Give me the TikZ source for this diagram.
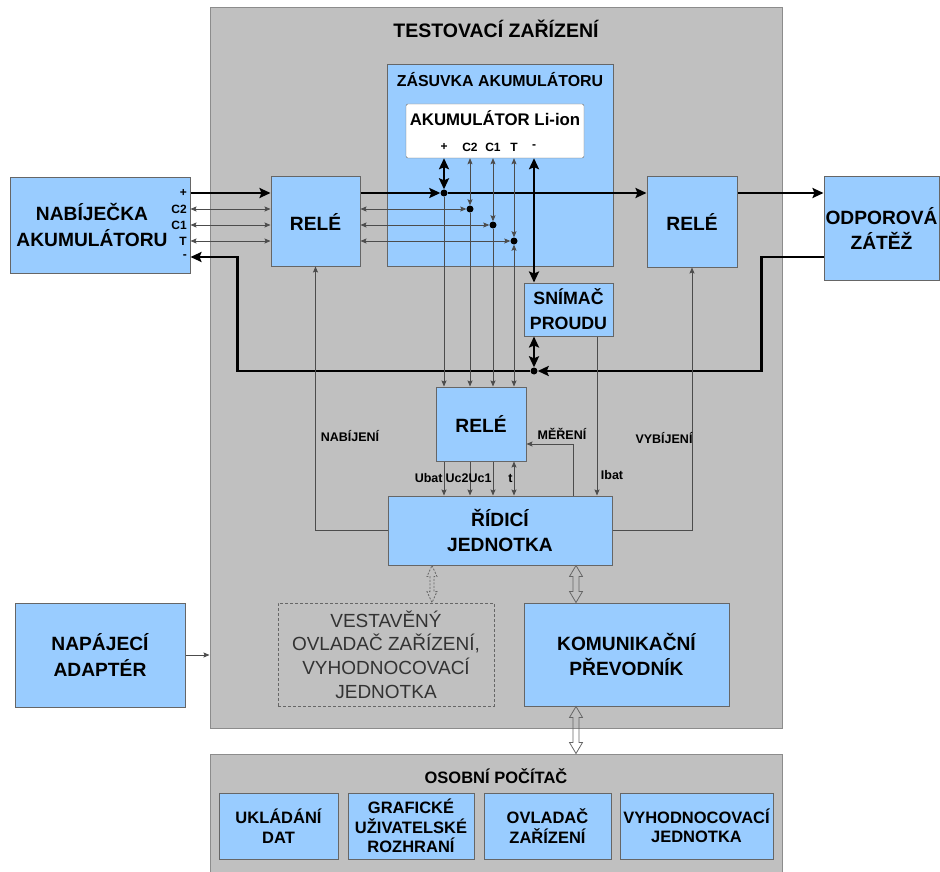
\documentclass[tikz,border=0pt]{standalone}
\usepackage{fontspec}
\setmainfont{Liberation Sans}
\usetikzlibrary{arrows.meta,calc}
\definecolor{modra}{HTML}{99CCFF}
\definecolor{seda}{HTML}{C0C0C0}
\def\velky{\bfseries\fontsize{19.2}{25.5}\selectfont}
\def\stredni{\bfseries\fontsize{16.5}{19.5}\selectfont}
\def\maly{\bfseries\fontsize{12.5}{14}\selectfont}
\def\dvojsipka[#1](#2)(#3)(#4:#5){\draw[#1] let \p1=(#2), \p2=(#3) in (\x1,\y1) -- (\x1+#4,\y1-11pt) -- (\x1+#5,\y1-11pt) -- (\x1+#5,\y2+11pt) -- (\x1+#4,\y2+11pt) -- (\x1,\y2) -- (\x1-#4,\y2+11pt) -- (\x1-#5,\y2+11pt) -- (\x1-#5,\y1-11pt) -- (\x1-#4,\y1-11pt) -- cycle;}
\tikzset{
	skrin/.style={draw=black!45, fill=seda, line width=1pt, inner sep=0pt},
	blok/.style={draw=black!60, fill=modra, line width=1pt, align=center, font=\velky, inner sep=0pt},
	maly blok/.style={blok, font=\stredni},
	pin/.style={font=\bfseries\fontsize{12}{12}\selectfont, inner sep=0pt},
	popis/.style={font=\maly, inner sep=1pt},
	bod/.style={circle, fill=black, inner sep=0pt, minimum size=7pt},
	tenka/.style={line width=0.8pt, draw=black!70, >={Stealth[length=6pt,width=5pt,inset=1pt]}},
	silna/.style={line width=2.8pt, >={Stealth[length=11pt,width=10pt,inset=2pt]}},
	obrys/.style={line width=0.8pt, draw=black!60}
}
\begin{document}
\begin{tikzpicture}[x=1pt, y=-1pt]
		%%%%% START %%%%%
		\useasboundingbox (0,0) rectangle (940,872);
		
		\node[skrin, minimum width=572pt, minimum height=720pt] (zarizeni) at (496,368) {};
		\node[font=\bfseries\fontsize{19.5}{22}\selectfont] (titulek) at (496,29) {TESTOVACÍ ZAŘÍZENÍ};
		
		% nabijecka a piny
		\node[blok, minimum width=180pt, minimum height=95pt] (nabijecka) at (100,225.5) {};
		\node[font=\velky, align=center] (nabtext) at (92,225) {NABÍJEČKA\\AKUMULÁTORU};
		\node[pin, anchor=east] (nplus) at (187,193) {+};
		\node[pin, anchor=east] (nc2) at (187,209) {C2};
		\node[pin, anchor=east] (nc1) at (187,225) {C1};
		\node[pin, anchor=east] (nt) at (187,241) {T};
		\node[pin, anchor=east] (nmin) at (187,257) {-};
		
		\node[blok, minimum width=89pt, minimum height=89pt] (rele1) at (315.5,221.5) {RELÉ};
		
		% zasuvka s akumulatorem
		\node[blok, minimum width=226pt, minimum height=201pt] (zasuvka) at (500,165.5) {};
		\node[font=\bfseries\fontsize{15.9}{18}\selectfont] (zastext) at (500,80) {ZÁSUVKA AKUMULÁTORU};
		\node[draw=black!60, fill=white, rounded corners=2pt, minimum width=178pt, minimum height=54pt] (akum) at (495,131) {};
		\node[font=\bfseries\fontsize{16.8}{18}\selectfont] (akumtext) at (495,118) {AKUMULÁTOR Li-ion};
		\node[pin] (aplus) at (444,147) {+};
		\node[pin] (ac2) at (470,147) {C2};
		\node[pin] (ac1) at (493,147) {C1};
		\node[pin] (at) at (514,147) {T};
		\node[pin] (amin) at (534,147) {-};
		
		\node[bod] (dplus) at (444,193) {};
		\node[bod] (dc2) at (470,209) {};
		\node[bod] (dc1) at (493,225) {};
		\node[bod] (dt) at (514,241) {};
		\node[bod] (dmin) at (534,371) {};
		
		\node[blok, minimum width=90pt, minimum height=90pt] (rele2) at (692,222) {RELÉ};
		\node[blok, minimum width=115pt, minimum height=103pt] (odporova) at (881.5,228.5) {ODPOROVÁ\\ZÁTĚŽ};
		\node[blok, minimum width=89pt, minimum height=53pt, font=\bfseries\fontsize{17.8}{25}\selectfont] (snimac) at (568.5,309.5) {SNÍMAČ\\PROUDU};
		\node[blok, minimum width=90pt, minimum height=74pt] (rele3) at (481,424) {RELÉ};
		\node[blok, minimum width=224pt, minimum height=69pt] (ridici) at (500,530.5) {ŘÍDICÍ\\JEDNOTKA};
		
		\node[draw=black!60, dash pattern=on 3pt off 2pt, line width=0.8pt, minimum width=216pt, minimum height=103pt, align=center, text=black!80, font=\fontsize{19}{23.7}\selectfont, inner sep=0pt] (vestaveny) at (386,654.5) {VESTAVĚNÝ\\OVLADAČ ZAŘÍZENÍ,\\VYHODNOCOVACÍ\\JEDNOTKA};
		\node[blok, minimum width=205pt, minimum height=103pt] (komunik) at (626.5,654.5) {KOMUNIKAČNÍ\\PŘEVODNÍK};
		\node[blok, minimum width=170pt, minimum height=104pt] (napajeci) at (100,655) {NAPÁJECÍ\\ADAPTÉR};
		
		% osobni pocitac
		\node[skrin, minimum width=572pt, minimum height=126pt] (osobni) at (496,817) {};
		\node[font=\stredni] (ostext) at (496,776) {OSOBNÍ POČÍTAČ};
		\node[maly blok, minimum width=119pt, minimum height=66pt] (ukladani) at (278.5,826) {UKLÁDÁNÍ\\DAT};
		\node[maly blok, minimum width=126pt, minimum height=66pt] (graficke) at (411,826) {GRAFICKÉ\\UŽIVATELSKÉ\\ROZHRANÍ};
		\node[maly blok, minimum width=127pt, minimum height=66pt] (ovladac) at (547.5,826) {OVLADAČ\\ZAŘÍZENÍ};
		\node[maly blok, minimum width=153pt, minimum height=66pt] (vyhodnoc) at (696.5,826) {VYHODNOCOVACÍ\\JEDNOTKA};
		
		% silove vedeni
		\draw[silna,->] (nabijecka.east |- nplus) -- (rele1.west |- nplus);
		\draw[silna,->] (rele1.east |- dplus) -- (dplus);
		\draw[silna,->] (dplus) -- (rele2.west |- dplus);
		\draw[silna,->] (rele2.east |- dplus) -- (odporova.west |- dplus);
		\draw[silna,<->] (akum.south -| dplus) -- (dplus);
		\draw[silna,<->] (akum.south -| dmin) -- (snimac.north -| dmin);
		\draw[silna,<->] (snimac.south -| dmin) -- (dmin);
		\draw[silna,->] (odporova.west |- nmin) -- ++(-62,0) |- (dmin);
		\draw[silna,->] (dmin) -| ([xshift=47pt]nabijecka.east |- nmin) -- (nabijecka.east |- nmin);
		
		% signaly
		\draw[tenka,<->] (nabijecka.east |- nc2) -- (rele1.west |- nc2);
		\draw[tenka,<->] (nabijecka.east |- nc1) -- (rele1.west |- nc1);
		\draw[tenka,<->] (nabijecka.east |- nt) -- (rele1.west |- nt);
		\draw[tenka,<->] (rele1.east |- dc2) -- (dc2);
		\draw[tenka,<->] (rele1.east |- dc1) -- (dc1);
		\draw[tenka,<->] (rele1.east |- dt) -- (dt);
		\draw[tenka,<->] (akum.south -| dc2) -- (dc2);
		\draw[tenka,<->] (akum.south -| dc1) -- (dc1);
		\draw[tenka,<->] (akum.south -| dt) -- (dt);
		\draw[tenka,->] (dplus) -- (rele3.north -| dplus);
		\draw[tenka,->] (dc2) -- (rele3.north -| dc2);
		\draw[tenka,->] (dc1) -- (rele3.north -| dc1);
		\draw[tenka,<->] (dt) -- (rele3.north -| dt);
		
		\draw[tenka,->] (rele3.south -| dplus) -- (ridici.north -| dplus) node[popis, midway, left] (ubat) {Ubat};
		\draw[tenka,->] (rele3.south -| dc2) -- (ridici.north -| dc2) node[popis, midway, left] (uc2) {Uc2};
		\draw[tenka,->] (rele3.south -| dc1) -- (ridici.north -| dc1) node[popis, midway, left] (uc1) {Uc1};
		\draw[tenka,<->] (rele3.south -| dt) -- (ridici.north -| dt) node[popis, midway, left] (tt) {t};
		\draw[tenka,->] ([xshift=73pt]ridici.north) |- ([yshift=-20pt]rele3.east);
		\node[popis] (mereni) at (562,434) {MĚŘENÍ};
		\draw[tenka,->] ([xshift=28.5pt]snimac.south) -- ([xshift=28.5pt]snimac.south |- ridici.north);
		\node[popis] (ibat) at (612,475) {Ibat};
		\draw[tenka,->] (ridici.west) -| (rele1.south);
		\node[popis] (nabijeni) at (350,436) {NABÍJENÍ};
		\draw[tenka,->] (ridici.east) -| (rele2.south);
		\node[popis] (vybijeni) at (664,438) {VYBÍJENÍ};
		\draw[tenka,->] (napajeci.east) -- (napajeci.east -| zarizeni.west);
		
		% komunikace
		\coordinate (vs) at ([xshift=46pt]vestaveny.north);
		\coordinate (ks) at ([xshift=-50.5pt]komunik.north);
		\dvojsipka[obrys, fill=seda, dash pattern=on 2pt off 1.5pt](ridici.south -| vs)(vs)(5pt:2pt);
		\dvojsipka[obrys, fill=seda](ridici.south -| ks)(ks)(6.5pt:3pt);
		\dvojsipka[obrys](komunik.south -| ks)(osobni.north -| ks)(6.5pt:3pt);
		%%%%% END %%%%%
	\end{tikzpicture}
\end{document}
